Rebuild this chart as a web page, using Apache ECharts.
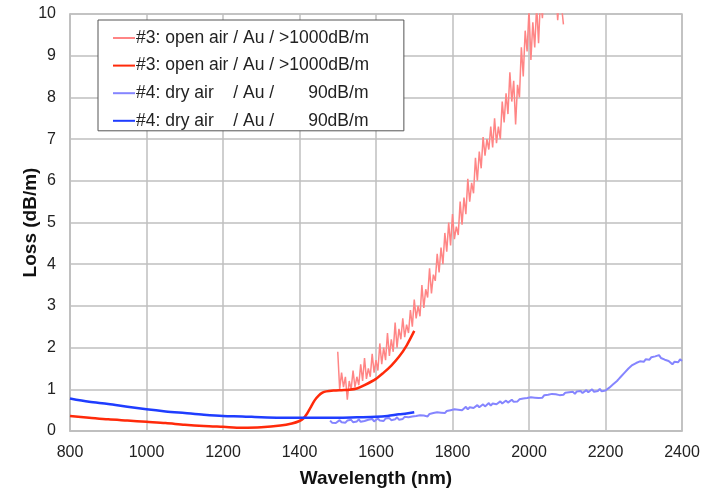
<!DOCTYPE html>
<html>
<head>
<meta charset="utf-8">
<script src="https://cdn.jsdelivr.net/npm/echarts@6/dist/echarts.min.js"></script>
<style>
  html, body { margin: 0; padding: 0; background: #fff; }
  #chart { width: 703px; height: 491px; }
</style>
</head>
<body>
<div id="chart"></div>
<script>
// legend names (trailing space keeps the duplicated labels distinct)
var names = [
  '#3: open air / Au / >1000dB/m',
  '#3: open air / Au / >1000dB/m ',
  '#4: dry air    / Au /       90dB/m',
  '#4: dry air    / Au /       90dB/m '
];

// #3 raw measurement, every 5 nm from 1500 nm
var rawOpenStart = 1500;
var rawOpenStep = 5;
var rawOpen = [
  1.9, 1.0, 1.4, 1.05, 1.3, 0.75, 1.2, 1.0, 1.45, 1.05,
  1.3, 1.1, 1.6, 1.2, 1.75, 1.25, 1.5, 1.3, 1.85, 1.4,
  1.7, 1.45, 2.1, 1.6, 2.0, 1.7, 2.35, 1.8, 2.2, 1.9,
  2.6, 2.0, 2.45, 2.2, 2.7, 2.25, 2.55, 2.35, 2.9, 2.5,
  3.15, 2.7, 3.0, 2.75, 3.5, 2.95, 3.4, 3.2, 3.9, 3.3,
  3.75, 3.6, 4.25, 3.8, 4.4, 4.0, 4.75, 4.3, 5.0, 4.45,
  5.2, 4.6, 4.9, 4.7, 5.5, 4.95, 5.6, 5.2, 6.05, 5.5,
  5.95, 5.7, 6.55, 6.0, 6.7, 6.3, 7.05, 6.6, 7.0, 6.75,
  7.3, 6.8, 7.5, 6.9, 7.3, 7.0, 7.9, 7.4, 8.1, 7.6,
  8.6, 7.9, 8.4, 7.35, 8.3, 8.0, 9.2, 8.5, 9.6, 9.1,
  10.1, 8.9, 9.8, 9.2, 10.2, 9.3, 10.4, 9.9, 10.6, 10.1,
  10.5, 10.2, 10.7, 10.3, 10.6, 9.85, 10.5, 10.2, 9.75
];

// #3 smoothed
var fitOpen = [
  [800, 0.36], [850, 0.32], [900, 0.28], [950, 0.25], [1000, 0.22],
  [1050, 0.19], [1100, 0.15], [1150, 0.12], [1200, 0.1], [1250, 0.08],
  [1300, 0.09], [1350, 0.13], [1380, 0.18], [1400, 0.24], [1410, 0.3],
  [1420, 0.42], [1430, 0.58], [1440, 0.74], [1450, 0.85], [1460, 0.92],
  [1470, 0.95], [1490, 0.97], [1510, 0.98], [1530, 0.99], [1550, 1.02],
  [1570, 1.1], [1600, 1.25], [1620, 1.4], [1640, 1.57], [1660, 1.78],
  [1680, 2.05], [1700, 2.4]
];

// #4 raw measurement, every 5 nm from 1480 nm
var rawDryStart = 1480;
var rawDryStep = 5;
var rawDry = [
  0.25, 0.2, 0.24, 0.19, 0.23, 0.26, 0.21, 0.24, 0.2, 0.25,
  0.22, 0.27, 0.21, 0.25, 0.23, 0.28, 0.22, 0.26, 0.24, 0.21,
  0.27, 0.24, 0.29, 0.23, 0.27, 0.3, 0.25, 0.28, 0.24, 0.3,
  0.27, 0.31, 0.26, 0.3, 0.28, 0.33, 0.27, 0.31, 0.29, 0.34,
  0.3, 0.33, 0.29, 0.35, 0.31, 0.36, 0.33, 0.38, 0.34, 0.37,
  0.4, 0.35, 0.41, 0.38, 0.43, 0.39, 0.45, 0.41, 0.44, 0.47,
  0.43, 0.48, 0.45, 0.5, 0.46, 0.52, 0.48, 0.51, 0.55, 0.5,
  0.54, 0.58, 0.52, 0.57, 0.6, 0.55, 0.59, 0.62, 0.57, 0.61,
  0.64, 0.59, 0.63, 0.67, 0.61, 0.66, 0.69, 0.64, 0.68, 0.71,
  0.66, 0.7, 0.73, 0.68, 0.72, 0.75, 0.7, 0.74, 0.71, 0.76,
  0.73, 0.78, 0.74, 0.79, 0.76, 0.81, 0.77, 0.8, 0.84, 0.79,
  0.83, 0.8, 0.86, 0.82, 0.87, 0.84, 0.89, 0.85, 0.88, 0.91,
  0.86, 0.9, 0.87, 0.92, 0.88, 0.93, 0.9, 0.94, 0.89, 0.95,
  0.92, 0.96, 0.91, 0.95, 0.98, 0.93, 0.97, 1.0, 0.94, 0.98,
  0.96, 1.01, 0.95, 0.99, 0.97, 1.0, 1.04, 1.08, 1.12, 1.16,
  1.2, 1.25, 1.3, 1.34, 1.4, 1.44, 1.5, 1.53, 1.58, 1.6,
  1.63, 1.6, 1.67, 1.7, 1.66, 1.72, 1.75, 1.71, 1.77, 1.74,
  1.79, 1.76, 1.82, 1.75, 1.78, 1.71, 1.74, 1.68, 1.64, 1.6,
  1.66, 1.7, 1.65, 1.72, 1.68
];

// #4 smoothed
var fitDry = [
  [800, 0.78], [850, 0.7], [900, 0.65], [950, 0.58], [1000, 0.52],
  [1050, 0.47], [1100, 0.43], [1150, 0.39], [1200, 0.36], [1250, 0.35],
  [1300, 0.33], [1350, 0.32], [1400, 0.32], [1450, 0.32], [1500, 0.32],
  [1550, 0.33], [1600, 0.34], [1630, 0.36], [1660, 0.4], [1680, 0.42],
  [1700, 0.45]
];

function pairs(start, step, vals) {
  return vals.map(function (v, i) { return [start + i * step, v]; });
}

var gridColor = '#bfbfbf';
var chart = echarts.init(document.getElementById('chart'));

chart.setOption({
  animation: false,
  textStyle: { fontFamily: 'Liberation Sans, Arial, sans-serif' },
  grid: {
    left: 70, right: 21, top: 14, bottom: 60,
    outerBoundsMode: 'none',
    show: true, borderColor: gridColor, borderWidth: 1.5
  },
  legend: {
    orient: 'vertical',
    left: 98, top: 20,
    padding: [9, 30, 1, 14],
    itemGap: 9.6,
    itemWidth: 22,
    itemHeight: 14,
    borderColor: '#555',
    borderWidth: 1,
    backgroundColor: '#fff',
    itemStyle: { color: 'rgba(0,0,0,0)', borderWidth: 0 },
    textStyle: { fontSize: 17.5, color: '#222', padding: [0, 0, 0, -4] },
    data: names
  },
  xAxis: {
    type: 'value', min: 800, max: 2400, interval: 200,
    name: 'Wavelength (nm)', nameLocation: 'middle', nameGap: 38,
    nameMoveOverlap: false,
    nameTextStyle: { fontSize: 19, fontWeight: 'bold', color: '#111' },
    axisLine: { lineStyle: { color: gridColor, width: 1.5 } },
    axisTick: { show: false },
    axisLabel: { fontSize: 16, color: '#222', margin: 14, formatter: function (v) { return String(v); } },
    splitLine: { lineStyle: { color: gridColor, width: 1.5 } }
  },
  yAxis: {
    type: 'value', min: 0, max: 10, interval: 1,
    name: 'Loss (dB/m)', nameLocation: 'middle', nameGap: 30,
    nameMoveOverlap: false,
    nameTextStyle: { fontSize: 19, fontWeight: 'bold', color: '#111' },
    axisLine: { show: true, lineStyle: { color: gridColor, width: 1.5 } },
    axisTick: { show: false },
    axisLabel: { fontSize: 16, color: '#222', margin: 14 },
    splitLine: { lineStyle: { color: gridColor, width: 1.5 } }
  },
  series: [
    {
      name: names[0], type: 'line', symbol: 'none', clip: true,
      data: pairs(rawOpenStart, rawOpenStep, rawOpen),
      lineStyle: { color: '#ff8585', width: 1.5 }, itemStyle: { color: '#ff8585' }
    },
    {
      name: names[1], type: 'line', symbol: 'none', smooth: 0.3,
      data: fitOpen,
      lineStyle: { color: '#ff2a0a', width: 2.5 }, itemStyle: { color: '#ff2a0a' }
    },
    {
      name: names[2], type: 'line', symbol: 'none',
      data: pairs(rawDryStart, rawDryStep, rawDry),
      lineStyle: { color: '#8585ff', width: 2 }, itemStyle: { color: '#8585ff' }
    },
    {
      name: names[3], type: 'line', symbol: 'none', smooth: 0.3,
      data: fitDry,
      lineStyle: { color: '#1f3dff', width: 2.5 }, itemStyle: { color: '#1f3dff' }
    }
  ]
});
</script>
</body>
</html>
